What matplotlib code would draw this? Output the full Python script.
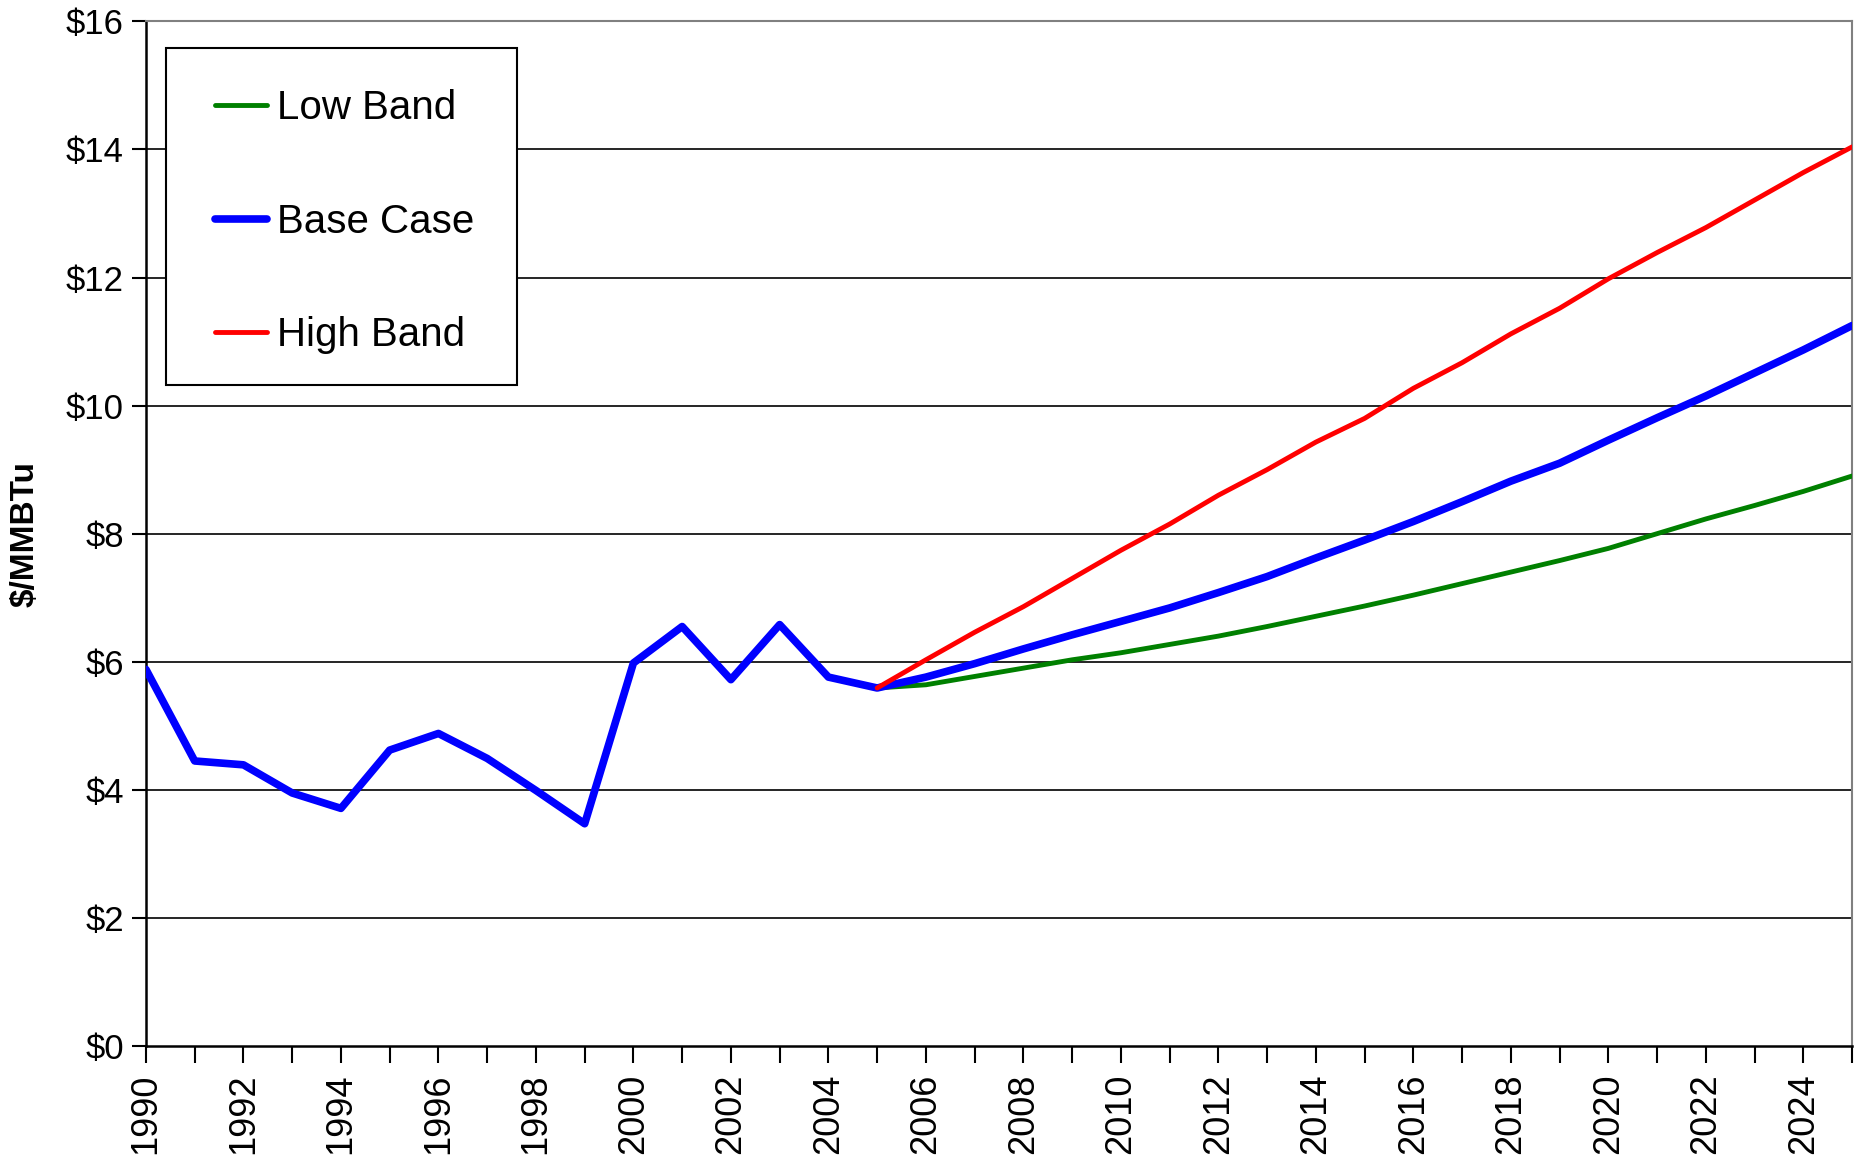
import matplotlib.pyplot as plt
import matplotlib as mpl
from matplotlib.patches import Rectangle

mpl.rcParams['font.family'] = ['Liberation Sans', 'DejaVu Sans']

# Henry Hub style gas price history plus forecast bands ($/MMBTu)
base_years = list(range(1990, 2026))
base_case = [5.88, 4.45, 4.39, 3.95, 3.71, 4.62, 4.88, 4.49, 3.99, 3.47,
             5.98, 6.55, 5.72, 6.58, 5.76, 5.59,
             5.76, 5.97, 6.20, 6.42, 6.63, 6.84, 7.08, 7.33, 7.62, 7.90,
             8.19, 8.50, 8.82, 9.10, 9.46, 9.81, 10.15, 10.51, 10.87, 11.25]

band_years = list(range(2005, 2026))
low_band = [5.59, 5.64, 5.77, 5.90, 6.03, 6.14, 6.27, 6.40, 6.55, 6.71, 6.87,
            7.04, 7.22, 7.40, 7.58, 7.77, 8.00, 8.23, 8.44, 8.66, 8.90]
high_band = [5.59, 6.03, 6.46, 6.86, 7.30, 7.74, 8.15, 8.60, 9.00, 9.43, 9.80,
             10.27, 10.67, 11.12, 11.52, 11.98, 12.39, 12.78, 13.21, 13.64, 14.04]

y_ticks = list(range(0, 17, 2))
y_labels = ['$%d' % v for v in y_ticks]

fig = plt.figure(figsize=(18.64, 11.57), dpi=100)
ax = fig.add_axes([0.0783, 0.096, 0.9153, 0.8855])

for v in y_ticks[1:-1]:
    ax.axhline(v, color='black', linewidth=1.2, zorder=1)

ax.plot(band_years, low_band, color='#008000', linewidth=3.5, label='Low Band',
        solid_capstyle='round', zorder=3)
ax.plot(base_years, base_case, color='#0000FF', linewidth=5.5, label='Base Case',
        solid_capstyle='round', zorder=4)
ax.plot(band_years, high_band, color='#FF0000', linewidth=3.5, label='High Band',
        solid_capstyle='round', zorder=5)

ax.set_xlim(1990, 2025)
ax.set_ylim(0, 16)

ax.set_yticks(y_ticks)
ax.set_yticklabels(y_labels, fontsize=25)
ax.set_xticks(base_years)
ax.set_xticklabels([str(y) if y % 2 == 0 and y < 2025 else '' for y in base_years],
                   rotation=90, fontsize=26)
ax.tick_params(axis='y', direction='out', length=10, width=1.5, pad=6)
ax.tick_params(axis='x', direction='out', length=12, width=1.5, pad=8)

ax.set_ylabel('$/MMBTu', fontsize=24, fontweight='bold', labelpad=18)

for side in ['left', 'bottom']:
    ax.spines[side].set_color('black')
    ax.spines[side].set_linewidth(1.8)
for side in ['top', 'right']:
    ax.spines[side].set_color('#808080')
    ax.spines[side].set_linewidth(1.5)

# legend box drawn separately so its padding can be set freely
box = Rectangle((0.0118, 0.645), 0.2056, 0.3295, transform=ax.transAxes,
                facecolor='white', edgecolor='black', linewidth=1.5, zorder=6)
ax.add_patch(box)
leg = ax.legend(loc='upper left', bbox_to_anchor=(0.0403, 0.934), fontsize=29,
                frameon=False, handlelength=1.3, handletextpad=0.25,
                labelspacing=1.88, borderpad=0, borderaxespad=0)
leg.set_zorder(7)

fig.savefig('out.png', dpi=100)
